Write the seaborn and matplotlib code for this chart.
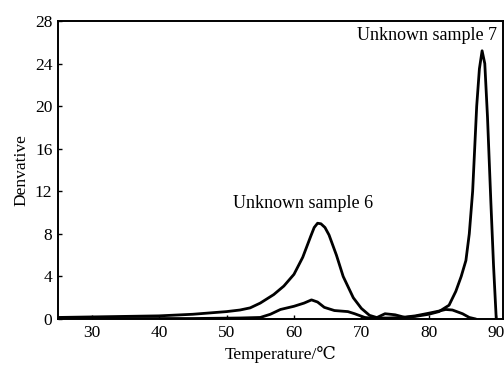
import matplotlib
matplotlib.use("Agg")
import matplotlib.pyplot as plt
import seaborn as sns
import pandas as pd

sns.set_style("ticks", {"text.color": "black", "axes.labelcolor": "black",
                        "xtick.color": "black", "ytick.color": "black",
                        "axes.edgecolor": "black"})
plt.rcParams['font.family'] = ['Liberation Serif', 'DejaVu Serif']

# Sample 6 (broad peak near 63.5 C)
temp6 = [25, 30, 35, 40, 45, 48, 50, 52, 53.5, 55, 57, 58.5, 60, 61.3, 62.5, 63.0, 63.5, 64.0, 64.6, 65.2, 66.3, 67.3, 68.8, 70, 71.2, 72.5,
         74, 76, 78, 80, 81.5, 82.5, 83.5, 85, 86, 87]
deriv6 = [0.15, 0.2, 0.25, 0.3, 0.45, 0.6, 0.7, 0.85, 1.05, 1.5, 2.3, 3.1, 4.2, 5.8, 7.8, 8.6, 9.0, 8.95, 8.6, 7.9, 6.0, 4.0, 2.0, 1.0, 0.35, 0.1,
         0.1, 0.15, 0.3, 0.55, 0.75, 0.9, 0.85, 0.5, 0.15, 0.0]

# Sample 7 (small bump near 62.5 C, sharp peak near 88 C)
temp7 = [25, 35, 45, 52, 55, 56.5, 58, 60, 61.5, 62.6, 63.5, 64.5, 66, 68, 69, 70.5, 72, 73.5, 75, 76.5, 78, 80, 81.5,
         83, 84, 84.8, 85.5, 86, 86.5, 86.8, 87.1, 87.5, 87.9, 88.3, 88.7, 89.2, 89.6, 90.0]
deriv7 = [0.05, 0.05, 0.05, 0.1, 0.15, 0.45, 0.9, 1.2, 1.5, 1.8, 1.6, 1.1, 0.8, 0.7, 0.5, 0.15, 0.05, 0.5, 0.4, 0.15, 0.25, 0.45, 0.7,
          1.3, 2.6, 4.0, 5.5, 8.0, 12.0, 16.0, 20.0, 23.5, 25.2, 24.0, 19.0, 11.0, 5.0, 0.0]

df = pd.concat([
    pd.DataFrame({"Temperature": temp6, "Derivative": deriv6, "sample": "Unknown sample 6"}),
    pd.DataFrame({"Temperature": temp7, "Derivative": deriv7, "sample": "Unknown sample 7"}),
])

fig = plt.figure(figsize=(5.04, 3.68), dpi=100)
ax = fig.add_axes([0.115, 0.133, 0.883, 0.810])
sns.lineplot(data=df, x="Temperature", y="Derivative", units="sample", estimator=None,
             sort=False, color="black", linewidth=2.0, ax=ax, legend=False)

ax.set_xlim(25, 91)
ax.set_ylim(0, 28)
ax.set_xticks([30, 40, 50, 60, 70, 80, 90])
ax.set_yticks([0, 4, 8, 12, 16, 20, 24, 28])
ax.tick_params(direction="in", length=3, width=1, labelsize=12.5, pad=4, colors="black")
for s in ax.spines.values():
    s.set_linewidth(1.4)
    s.set_visible(True)
    s.set_color("black")
ax.set_xlabel("Temperature/\u2103", fontsize=12.5, labelpad=4, color="black")
ax.set_ylabel("Denvative", fontsize=12.5, labelpad=4, color="black")

ax.text(79.7, 26.6, "Unknown sample 7", fontsize=13, ha="center", va="center", color="black")
ax.text(61.3, 10.9, "Unknown sample 6", fontsize=13, ha="center", va="center", color="black")

fig.savefig("out.png", dpi=100)
